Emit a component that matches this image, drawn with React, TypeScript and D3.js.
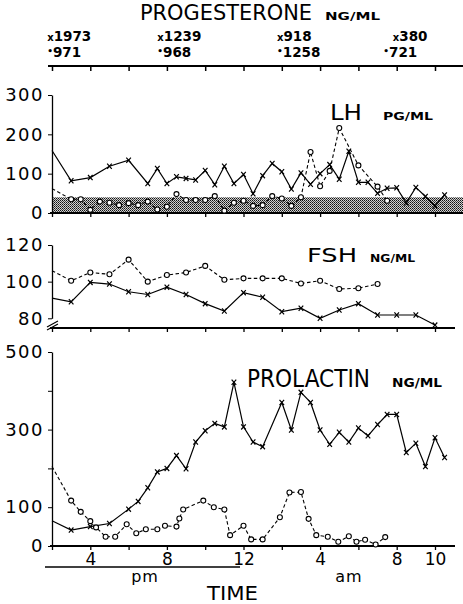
import { useEffect, useRef } from "react";
import * as d3 from "d3";

// time in hours after noon (2 = 2 pm, 14 = 2 am, 22 = 10 am)
const hourTicks = [2, 4, 6, 8, 10, 12, 14, 16, 18, 20, 22];
const timeLabelHours = [4, 8, 12, 16, 20, 22];
const timeLabels = ["4", "8", "12", "4", "8", "10"];

const progXValues = ["1973", "1239", "918", "380"];
const progXHours = [1.75, 7.5, 13.75, 19.8];
const progOValues = ["971", "968", "1258", "721"];
const progOHours = [1.75, 7.5, 13.75, 19.3];

const lhTicks = [0, 100, 200, 300];
const lhBand = 40;
const lhX: [number, number][] = [
  [2, 159], [3, 82], [4, 90], [5, 119], [6, 134], [7, 75], [7.5, 113], [8, 75],
  [8.5, 92], [9, 88], [9.5, 84], [10, 108], [10.5, 72], [11, 119], [11.5, 75],
  [12, 98], [12.5, 49], [13, 95], [13.5, 126], [14, 105], [14.5, 61], [15, 102],
  [15.5, 73], [16, 100], [16.5, 123], [17, 86], [17.5, 157], [18, 78], [18.5, 78],
  [19, 50], [19.5, 63], [20, 64], [20.5, 26], [21, 65], [21.5, 42], [22, 18], [22.5, 46],
];
const lhO: [number, number][] = [
  [2, 62], [3, 35], [3.5, 35], [4, 8], [4.5, 29], [5, 26], [5.5, 20], [6, 25],
  [6.5, 20], [7, 29], [7.5, 9], [8, 16], [8.5, 48], [9, 33], [9.5, 33], [10, 33],
  [10.5, 43], [11, 6], [11.5, 26], [12, 31], [12.5, 18], [13, 20], [13.5, 43],
  [14, 37], [14.5, 18], [15, 40], [15.5, 155], [16, 68], [16.5, 107], [17, 216],
  [18, 121], [19, 67], [19.5, 31],
];

const fshTicks = [80, 100, 120];
const fshX: [number, number][] = [
  [2, 91], [3, 89], [4, 99.6], [5, 98.7], [6, 94.5], [7, 93], [8, 97], [9, 93],
  [10, 88], [11, 84], [12, 94], [13, 91.5], [14, 83.6], [15, 85.5], [16, 80],
  [17, 84.5], [18, 88], [19, 81.8], [20, 81.8], [21, 81.8], [22, 76.3],
];
const fshO: [number, number][] = [
  [2, 106], [3, 100.5], [4, 105], [5, 104], [6, 112], [7, 100], [8, 103.6],
  [9, 105], [10, 108.6], [11, 101], [12, 101.8], [13, 101.8], [14, 101.8],
  [15, 99], [16, 100.5], [17, 96], [18, 96.4], [19, 98.7],
];

const prlTicks = [0, 100, 200, 300, 400, 500];
const prlLabels = [0, 100, 300, 500];
const prlX: [number, number][] = [
  [2, 65], [3, 41], [4, 50], [5, 58], [6, 95], [6.5, 115], [7, 150], [7.5, 191],
  [8, 200], [8.5, 233], [9, 199], [9.5, 268], [10, 297], [10.5, 316], [11, 307],
  [11.5, 422], [12, 307], [12.5, 268], [13, 256], [14, 370], [14.5, 299], [15, 396],
  [15.5, 370], [16, 299], [16.5, 262], [17, 293], [17.5, 268], [18, 304], [18.5, 284],
  [19, 313], [19.5, 339], [20, 339], [20.5, 241], [21, 265], [21.5, 205], [22, 279],
  [22.5, 228],
];
const prlO: [number, number][] = [
  [2, 205], [3, 117], [3.5, 88], [4, 64], [4.3, 48], [4.8, 24], [5.3, 24], [5.9, 56],
  [6.4, 33], [6.9, 43], [7.5, 43], [7.9, 52], [8.5, 50], [8.65, 71], [8.85, 94],
  [9.9, 117], [10.45, 100], [11, 94], [11.3, 28], [12, 52], [12.4, 17], [13, 17],
  [13.9, 74], [14.4, 138], [15, 139], [15.4, 70], [15.8, 28], [16.4, 24], [16.95, 11],
  [17.5, 25], [17.9, 11], [18.35, 16], [18.9, 4], [19.4, 23],
];

const FONT = "'DejaVu Sans', sans-serif";

export default function App() {
  const ref = useRef<SVGSVGElement>(null);

  useEffect(() => {
    const svg = d3.select(ref.current);
    svg.selectAll("*").remove();

    const x = d3.scaleLinear().domain([2, 22]).range([52, 435]);

    const defs = svg.append("defs");
    const pat = defs
      .append("pattern")
      .attr("id", "stipple")
      .attr("width", 2)
      .attr("height", 2)
      .attr("patternUnits", "userSpaceOnUse");
    pat.append("rect").attr("width", 2).attr("height", 2).attr("fill", "#d0d0d0");
    pat.append("rect").attr("width", 1).attr("height", 1).attr("fill", "#111");
    pat.append("rect").attr("x", 1).attr("y", 1).attr("width", 1).attr("height", 1).attr("fill", "#444");

    const title = (t: string, tx: number, ty: number, size: number, len: number, bold = false) =>
      svg
        .append("text")
        .attr("x", tx)
        .attr("y", ty)
        .attr("font-family", FONT)
        .attr("font-size", size)
        .attr("font-weight", bold ? "bold" : "normal")
        .attr("textLength", len)
        .attr("lengthAdjust", "spacingAndGlyphs")
        .text(t);

    // ---- progesterone header
    title("PROGESTERONE", 140, 20, 22, 172);
    title("NG/ML", 325, 20, 11, 55, true);

    progXValues.forEach((v, i) => {
      const t = svg
        .append("text")
        .attr("x", x(progXHours[i]))
        .attr("y", 41)
        .attr("font-family", FONT)
        .attr("font-weight", "bold");
      t.append("tspan").attr("font-size", 10).text("x");
      t.append("tspan").attr("font-size", 13.5).text(v);
    });
    progOValues.forEach((v, i) => {
      const t = svg
        .append("text")
        .attr("x", x(progOHours[i]))
        .attr("y", 57)
        .attr("font-family", FONT)
        .attr("font-weight", "bold");
      t.append("tspan").attr("font-size", 9).attr("dy", -3).text("•");
      t.append("tspan").attr("font-size", 13.5).attr("dy", 3).text(v);
    });
    svg.append("line").attr("x1", 48).attr("x2", 463).attr("y1", 66).attr("y2", 66)
      .attr("stroke", "#000").attr("stroke-width", 2);
    svg.append("g")
      .attr("transform", "translate(0,66)")
      .call(d3.axisBottom(x).tickValues(hourTicks).tickSize(5).tickFormat(() => ""))
      .call((g) => g.select(".domain").remove())
      .call((g) => g.selectAll("line").attr("stroke-width", 1.5));

    const drawPanel = (
      y: d3.ScaleLinear<number, number>,
      ticks: number[],
      labelled: number[],
      axisY: number,
      xEnd: number,
      sx: [number, number][],
      so: [number, number][]
    ) => {
      const ya = svg.append("g")
        .attr("transform", "translate(52,0)")
        .call(
          d3.axisLeft(y)
            .tickValues(ticks)
            .tickSize(4)
            .tickSizeOuter(0)
            .tickPadding(4)
            .tickFormat((d) => (labelled.includes(+d) ? String(d) : ""))
        );
      ya.select(".domain").attr("stroke-width", 1.3);
      ya.selectAll("text")
        .attr("font-family", FONT)
        .attr("font-size", 18)
        .attr("letter-spacing", 1.5)
        .attr("fill", "#000");

      svg.append("line").attr("x1", 50).attr("x2", xEnd).attr("y1", axisY).attr("y2", axisY)
        .attr("stroke", "#000").attr("stroke-width", 1.8);
      svg.append("g")
        .attr("transform", `translate(0,${axisY})`)
        .call(d3.axisBottom(x).tickValues(hourTicks).tickSize(4).tickFormat(() => ""))
        .call((g) => g.select(".domain").remove())
        .call((g) => g.selectAll("line").attr("stroke-width", 1.3));

      const line = d3.line<[number, number]>().x((d) => x(d[0])).y((d) => y(d[1]));
      svg.append("path").attr("d", line(so)).attr("fill", "none")
        .attr("stroke", "#000").attr("stroke-width", 1.1).attr("stroke-dasharray", "3.5,2.5");
      svg.append("path").attr("d", line(sx)).attr("fill", "none")
        .attr("stroke", "#000").attr("stroke-width", 1.2);

      svg.append("g").selectAll("path")
        .data(sx.filter((d) => d[0] > 2))
        .join("path")
        .attr("transform", (d) => `translate(${x(d[0])},${y(d[1])})`)
        .attr("d", "M-2.3,-2.6L2.3,2.6M-2.3,2.6L2.3,-2.6")
        .attr("stroke", "#000")
        .attr("stroke-width", 1.2);
      svg.append("g").selectAll("circle")
        .data(so.filter((d) => d[0] > 2))
        .join("circle")
        .attr("cx", (d) => x(d[0]))
        .attr("cy", (d) => y(d[1]))
        .attr("r", 2.5)
        .attr("fill", "#fff")
        .attr("stroke", "#000")
        .attr("stroke-width", 1.1);
    };

    // ---- LH
    const yLH = d3.scaleLinear().domain([0, 300]).range([213, 95]);
    svg.append("rect")
      .attr("x", 52)
      .attr("y", yLH(lhBand))
      .attr("width", 463 - 52)
      .attr("height", yLH(0) - yLH(lhBand))
      .attr("fill", "url(#stipple)");
    drawPanel(yLH, lhTicks, lhTicks, 213, 463, lhX, lhO);
    title("LH", 330, 120, 21, 32);
    title("PG/ML", 383, 120, 10, 50, true);

    // ---- FSH
    const yFSH = d3.scaleLinear().domain([80, 120]).range([318.3, 245]);
    drawPanel(yFSH, fshTicks, fshTicks, 328, 455, fshX, fshO);
    svg.append("path")
      .attr("d", "M47,327L58,321M47,330L58,324")
      .attr("stroke", "#000")
      .attr("stroke-width", 1.2)
      .attr("fill", "none");
    title("FSH", 307, 262, 20, 50);
    title("NG/ML", 370, 262, 10, 45, true);

    // ---- Prolactin
    const yPRL = d3.scaleLinear().domain([0, 500]).range([546, 352]);
    drawPanel(yPRL, prlTicks, prlLabels, 546, 455, prlX, prlO);
    title("PROLACTIN", 247, 387, 25, 123);
    title("NG/ML", 392, 387, 12, 50, true);

    const lab = svg.append("g")
      .attr("transform", "translate(0,546)")
      .call(
        d3.axisBottom(x)
          .tickValues(timeLabelHours)
          .tickSize(0)
          .tickPadding(7)
          .tickFormat((_d, i) => timeLabels[i])
      );
    lab.select(".domain").remove();
    lab.selectAll("text").attr("font-family", FONT).attr("font-size", 17).attr("fill", "#000");

    svg.append("line").attr("x1", 45).attr("x2", 240).attr("y1", 567).attr("y2", 567)
      .attr("stroke", "#000").attr("stroke-width", 1.5);
    svg.append("text").attr("x", 145).attr("y", 582).attr("text-anchor", "middle")
      .attr("font-family", FONT).attr("font-size", 16).attr("letter-spacing", 1).text("pm");
    svg.append("text").attr("x", 349).attr("y", 582).attr("text-anchor", "middle")
      .attr("font-family", FONT).attr("font-size", 16).attr("letter-spacing", 1).text("am");
    title("TIME", 207, 600, 20, 51);
  }, []);

  return (
    <svg
      ref={ref}
      width={463}
      height={604}
      style={{ position: "absolute", left: 0, top: 0, background: "#fff" }}
    />
  );
}
